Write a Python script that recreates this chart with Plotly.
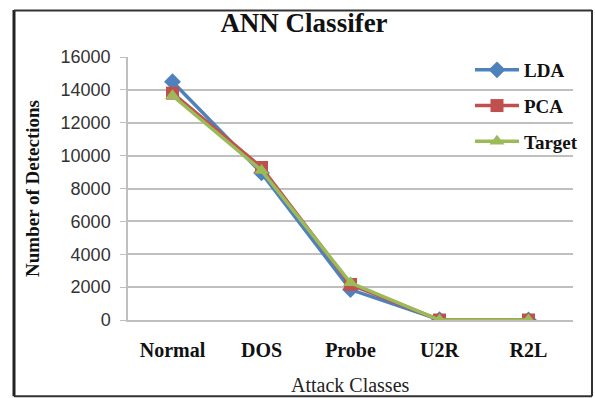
import plotly.graph_objects as go

categories = ["Normal", "DOS", "Probe", "U2R", "R2L"]
lda = [14500, 8950, 1850, 20, 0]
pca = [13800, 9280, 2160, 0, 0]
target = [13650, 9100, 2260, 0, 0]
y_ticks = [0, 2000, 4000, 6000, 8000, 10000, 12000, 14000, 16000]

W, H = 595, 398
L, R, T, B = 128, 22, 57, 77.5
pw = W - L - R
ph = H - T - B

def px_x(x):
    return (x - L) / pw

def px_y(y):
    return (H - B - y) / ph

serif = "Liberation Serif"
sans = "Liberation Sans"

fig = go.Figure()
fig.add_trace(go.Scatter(x=categories, y=lda, name="<b>LDA</b>", mode="lines+markers",
                         line=dict(color="#4F81BD", width=3.5),
                         marker=dict(symbol="diamond", size=13, color="#4F81BD"),
                         legendgroup="a"))
fig.add_trace(go.Scatter(x=categories, y=pca, name="<b>PCA</b>", mode="lines+markers",
                         line=dict(color="#C0504D", width=3.5),
                         marker=dict(symbol="square", size=13, color="#C0504D"),
                         legendgroup="b"))
fig.add_trace(go.Scatter(x=categories, y=target, name="<b>Target</b>", mode="lines+markers",
                         line=dict(color="#9BBB59", width=3.5),
                         marker=dict(symbol="triangle-up", size=13, color="#9BBB59"),
                         legendgroup="c"))

fig.update_layout(
    width=W, height=H,
    margin=dict(l=L, r=R, t=T, b=B),
    paper_bgcolor="white", plot_bgcolor="white",
    title=dict(text="<b>ANN Classifer</b>", x=304 / W, xanchor="center",
               y=1 - 23 / H, yanchor="middle",
               font=dict(family=serif, size=27, color="#111")),
    xaxis=dict(type="category", range=[-0.5, 4.5], showgrid=False,
               showline=True, linecolor="#BFBFBF", linewidth=1.5,
               ticks="", tickfont=dict(family=serif, size=20, color="#111"),
               tickprefix="<b>", ticksuffix="</b>", ticklabelstandoff=11),
    yaxis=dict(range=[0, 16000], tickvals=y_ticks, tickformat="d", showgrid=True,
               gridcolor="#BFBFBF", gridwidth=1.5,
               showline=True, linecolor="#BFBFBF", linewidth=1.5,
               ticks="outside", ticklen=6, tickcolor="#BFBFBF",
               tickfont=dict(family=sans, size=18, color="#333"),
               ticklabelstandoff=6, zeroline=False,
               title=dict(text="<b>Number of Detections</b>", standoff=16,
                          font=dict(family=serif, size=19, color="#111"))),
    legend=dict(x=px_x(470), y=px_y(51), xanchor="left", yanchor="top",
                bgcolor="rgba(0,0,0,0)", tracegroupgap=8, itemwidth=44,
                font=dict(family=serif, size=19, color="#111")),
    annotations=[dict(text="Attack Classes", x=px_x(350), y=px_y(386),
                      xref="paper", yref="paper", showarrow=False,
                      xanchor="center", yanchor="middle",
                      font=dict(family=serif, size=20, color="#222"))],
    shapes=[
        dict(type="line", xref="paper", yref="paper", x0=px_x(14), x1=px_x(14),
             y0=px_y(10), y1=px_y(397), line=dict(color="#222", width=3)),
        dict(type="line", xref="paper", yref="paper", x0=px_x(14), x1=px_x(592),
             y0=px_y(10.5), y1=px_y(10.5), line=dict(color="#333", width=2)),
        dict(type="line", xref="paper", yref="paper", x0=px_x(592), x1=px_x(592),
             y0=px_y(10), y1=px_y(397), line=dict(color="#333", width=2)),
        dict(type="line", xref="paper", yref="paper", x0=px_x(14), x1=px_x(592),
             y0=px_y(397), y1=px_y(397), line=dict(color="#333", width=2)),
    ],
)

fig.write_html("out.html")
